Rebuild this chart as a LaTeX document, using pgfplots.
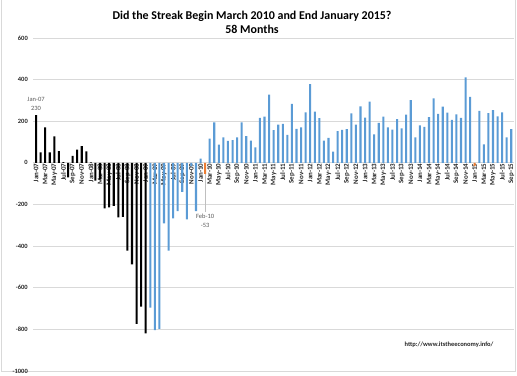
\documentclass[border=0pt]{standalone}
\usepackage{pgfplots}
\pgfplotsset{compat=1.18}
\usepackage{fontspec}
\setmainfont{Carlito}
\definecolor{barblue}{HTML}{5B9BD5}
\definecolor{barorange}{HTML}{ED7D31}
\definecolor{gridgrey}{HTML}{D9D9D9}
\definecolor{txtgrey}{HTML}{595959}
\definecolor{ticktxt}{HTML}{262626}
\begin{document}
\begin{tikzpicture}[x=1bp,y=1bp]
\useasboundingbox (0,0) rectangle (517,375);
\draw[gridgrey, line width=0.8bp] (1,375) -- (1,4) -- (515,4) -- (515,375);
\node[font=\fontsize{12}{14}\selectfont\bfseries, align=center] at (252,353) {Did the Streak Begin March 2010 and End January 2015?\\58 Months};
\node[font=\fontsize{6.5}{8}\selectfont\bfseries, anchor=east, text=ticktxt] at (497,30) {http://www.itstheeconomy.info/};
\begin{axis}[
  at={(33.3bp,4bp)}, anchor=south west, scale only axis,
  width=480.7bp, height=333bp,
  xmin=-0.6, xmax=104.6, ymin=-1000, ymax=600,
  axis x line=middle, axis y line=left,
  axis line style={-, gridgrey, line width=0.8bp},
  y axis line style={draw=none},
  hide obscured x ticks=false, hide obscured y ticks=false,
  major tick length=0pt,
  ymajorgrids, grid style={gridgrey, line width=0.8bp},
  ytick={-1000,-800,-600,-400,-200,0,200,400,600},
  yticklabels={-1000,-800,-600,-400,-200,0,200,400,600},
  yticklabel style={font=\fontsize{6.5}{7}\selectfont\bfseries, text=ticktxt, xshift=-2bp},
  xtick={0,2,...,104},
  xticklabels={Jan-07,Mar-07,May-07,Jul-07,Sep-07,Nov-07,
    Jan-08,Mar-08,May-08,Jul-08,Sep-08,Nov-08,
    Jan-09,Mar-09,May-09,Jul-09,Sep-09,Nov-09,
    Jan-10,Mar-10,May-10,Jul-10,Sep-10,Nov-10,
    Jan-11,Mar-11,May-11,Jul-11,Sep-11,Nov-11,
    Jan-12,Mar-12,May-12,Jul-12,Sep-12,Nov-12,
    Jan-13,Mar-13,May-13,Jul-13,Sep-13,Nov-13,
    Jan-14,Mar-14,May-14,Jul-14,Sep-14,Nov-14,
    Jan-15,Mar-15,May-15,Jul-15,Sep-15},
  xticklabel style={font=\fontsize{7}{7}\selectfont\bfseries, text=ticktxt, rotate=90, anchor=east, inner sep=0.5pt},
  clip=false,
]
\addplot[ybar, bar width=0.45, bar shift=0pt, fill=black, draw=none] coordinates {
 (0,230) (1,50) (2,170) (3,50) (4,127) (5,56) (6,4) (7,-70) (8,34) (9,64) (10,80) (11,55)
 (12,3) (13,-85) (14,-80) (15,-219) (16,-214) (17,-206) (18,-262) (19,-259) (20,-422) (21,-488) (22,-774) (23,-691)
 (24,-819)
};
\addplot[ybar, bar width=0.45, bar shift=0pt, fill=barblue, draw=none] coordinates {
 (25,-695) (26,-803) (27,-797) (28,-291) (29,-422) (30,-267) (31,-232) (32,-139) (33,-272) (34,-16) (35,-232)
 (36,20) (38,117) (39,194) (40,88) (41,123) (42,106) (43,109) (44,122) (45,195) (46,128) (47,107)
 (48,74) (49,216) (50,222) (51,328) (52,157) (53,184) (54,187) (55,134) (56,283) (57,163) (58,170) (59,243)
 (60,378) (61,246) (62,215) (63,107) (64,120) (65,54) (66,152) (67,158) (68,162) (69,238) (70,184) (71,272)
 (72,218) (73,294) (74,137) (75,192) (76,222) (77,170) (78,160) (79,210) (80,166) (81,232) (82,301) (83,122)
 (84,180) (85,173) (86,220) (87,310) (88,236) (89,270) (90,241) (91,207) (92,233) (93,216) (94,411) (95,317)
 (97,250) (98,89) (99,239) (100,254) (101,224) (102,243) (103,122) (104,162)
};
\addplot[ybar, bar width=0.45, bar shift=0pt, fill=barorange, draw=none] coordinates {
 (37,-53) (96,-15)
};
\draw[color={rgb,255:red,191;green,191;blue,191}, line width=0.6bp] (axis cs:37,-53) -- (axis cs:37,-238);
\node[font=\fontsize{6.5}{9}\selectfont, align=center, anchor=north, text=txtgrey, inner sep=1pt] at (axis cs:37,-238) {Feb-10\\-53};
\node[font=\fontsize{6.5}{9}\selectfont, align=center, anchor=south, text=txtgrey, inner sep=1pt] at (axis cs:0,245) {Jan-07\\230};
\end{axis}
\end{tikzpicture}
\end{document}
